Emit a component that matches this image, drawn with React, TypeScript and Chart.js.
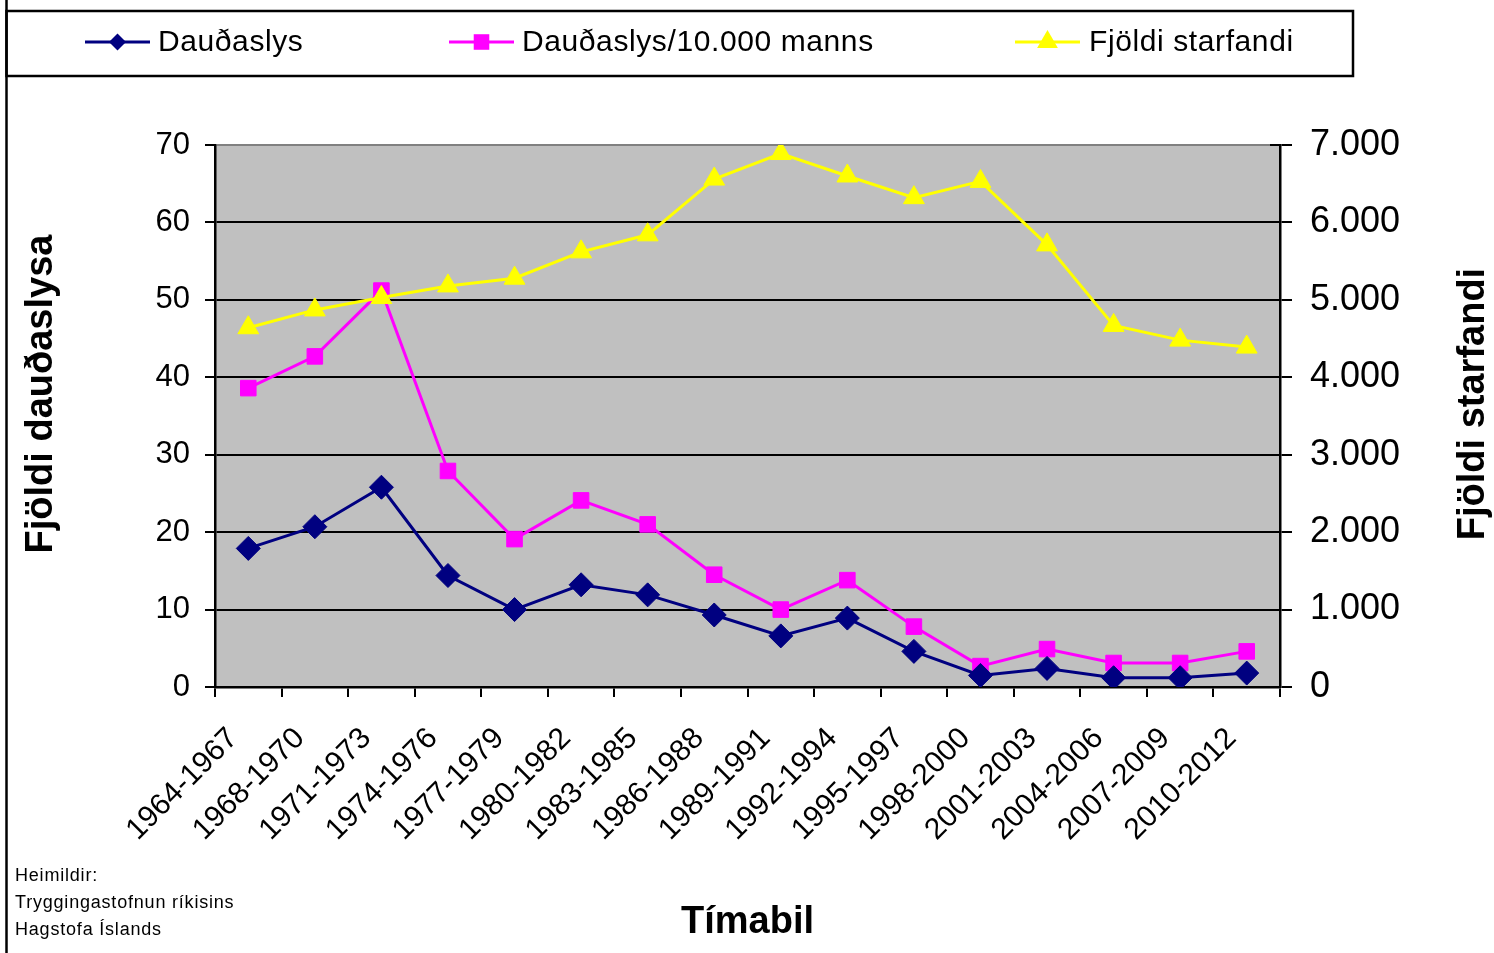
import React, { useEffect, useRef } from 'react';
import { Chart, registerables } from 'chart.js';

Chart.register(...registerables);

const categories = [
  '1964-1967', '1968-1970', '1971-1973', '1974-1976', '1977-1979', '1980-1982',
  '1983-1985', '1986-1988', '1989-1991', '1992-1994', '1995-1997', '1998-2000',
  '2001-2003', '2004-2006', '2007-2009', '2010-2012',
];
const deaths = [17.9, 20.7, 25.8, 14.4, 10.0, 13.2, 11.9, 9.3, 6.6, 8.9, 4.6, 1.5, 2.4, 1.2, 1.2, 1.8];
const deathsPer10k = [38.6, 42.7, 51.2, 27.9, 19.1, 24.1, 21.0, 14.5, 10.0, 13.8, 7.8, 2.7, 4.9, 3.1, 3.1, 4.6];
const employed = [4640, 4870, 5030, 5180, 5280, 5620, 5840, 6560, 6890, 6600, 6320, 6530, 5710, 4670, 4480, 4390];

const seriesLabels = ['Dauðaslys', 'Dauðaslys/10.000 manns', 'Fjöldi starfandi'];
const leftAxisTitle = 'Fjöldi dauðaslysa';
const rightAxisTitle = 'Fjöldi starfandi';
const xAxisTitle = 'Tímabil';
const sourceLines = ['Heimildir:', 'Tryggingastofnun ríkisins', 'Hagstofa Íslands'];
const leftMax = 70;
const leftStep = 10;
const rightMax = 7000;
const rightStep = 1000;

const FONT = '"Liberation Sans", Arial, sans-serif';
const W = 1494;
const H = 953;

const fmtThousands = (v: number) => String(v).replace(/\B(?=(\d{3})+(?!\d))/g, '.');

function drawMarker(ctx: CanvasRenderingContext2D, style: string, x: number, y: number, r: number) {
  ctx.beginPath();
  if (style === 'rectRot') {
    const s = Math.SQRT1_2 * r;
    ctx.moveTo(x - s, y);
    ctx.lineTo(x, y + s);
    ctx.lineTo(x + s, y);
    ctx.lineTo(x, y - s);
  } else if (style === 'rect') {
    const s = Math.SQRT1_2 * r;
    ctx.rect(x - s, y - s, 2 * s, 2 * s);
  } else {
    ctx.moveTo(x, y - r);
    ctx.lineTo(x + 0.866 * r, y + 0.5 * r);
    ctx.lineTo(x - 0.866 * r, y + 0.5 * r);
  }
  ctx.closePath();
  ctx.fill();
}

const legendLayout = [
  { x0: 85, x1: 150, tx: 158 },
  { x0: 449, x1: 514, tx: 522 },
  { x0: 1015, x1: 1080, tx: 1089 },
];

const decorPlugin = {
  id: 'decor',
  beforeDraw(chart: any) {
    const { ctx, chartArea: a } = chart;
    ctx.save();
    ctx.fillStyle = '#ffffff';
    ctx.fillRect(0, 0, chart.width, chart.height);
    ctx.fillStyle = '#C0C0C0';
    ctx.fillRect(a.left, a.top, a.right - a.left, a.bottom - a.top);
    ctx.restore();
  },
  afterDraw(chart: any) {
    const { ctx, chartArea: a } = chart;
    ctx.save();
    // inward ticks on the right axis (cross the axis like the reference)
    const y1 = chart.scales.y1;
    ctx.strokeStyle = '#000';
    ctx.lineWidth = 2;
    y1.ticks.forEach((t: any) => {
      const py = Math.round(y1.getPixelForValue(t.value));
      ctx.beginPath();
      ctx.moveTo(a.right - 10, py);
      ctx.lineTo(a.right, py);
      ctx.stroke();
    });

    // outer frame line and legend box
    ctx.lineWidth = 2.5;
    ctx.beginPath();
    ctx.moveTo(6.5, 0);
    ctx.lineTo(6.5, H);
    ctx.stroke();
    ctx.strokeRect(6.5, 11, 1346.5, 65);

    // legend items
    const ly = 42;
    chart.data.datasets.forEach((ds: any, i: number) => {
      const L = legendLayout[i];
      ctx.strokeStyle = ds.borderColor;
      ctx.lineWidth = 3;
      ctx.beginPath();
      ctx.moveTo(L.x0, ly);
      ctx.lineTo(L.x1, ly);
      ctx.stroke();
      ctx.fillStyle = ds.pointBackgroundColor;
      drawMarker(ctx, ds.pointStyle, (L.x0 + L.x1) / 2, ly, ds.pointRadius);
      ctx.fillStyle = '#000';
      ctx.font = `30px ${FONT}`;
      (ctx as any).letterSpacing = '0.6px';
      ctx.textAlign = 'left';
      ctx.textBaseline = 'middle';
      ctx.fillText(ds.label, L.tx, ly + 1);
      (ctx as any).letterSpacing = '0px';
    });

    // vertical axis titles
    ctx.fillStyle = '#000';
    ctx.font = `bold 38px ${FONT}`;
    ctx.textAlign = 'center';
    ctx.textBaseline = 'middle';
    ctx.save();
    ctx.translate(42, 394);
    ctx.rotate(-Math.PI / 2);
    ctx.fillText(leftAxisTitle, 0, 0);
    ctx.restore();
    ctx.save();
    ctx.translate(1474, 404);
    ctx.rotate(-Math.PI / 2);
    ctx.fillText(rightAxisTitle, 0, 0);
    ctx.restore();

    // sources
    ctx.font = `18px ${FONT}`;
    (ctx as any).letterSpacing = '0.8px';
    ctx.textAlign = 'left';
    ctx.textBaseline = 'alphabetic';
    sourceLines.forEach((t, i) => ctx.fillText(t, 15, 881 + i * 27));
    (ctx as any).letterSpacing = '0px';
    ctx.restore();
  },
};

export default function App() {
  const ref = useRef<HTMLCanvasElement>(null);

  useEffect(() => {
    if (!ref.current) return;
    const chart = new Chart(ref.current, {
      type: 'line',
      data: {
        labels: categories,
        datasets: [
          {
            label: seriesLabels[0],
            data: deaths,
            yAxisID: 'y',
            borderColor: '#000080',
            backgroundColor: '#000080',
            pointBackgroundColor: '#000080',
            pointBorderColor: '#000080',
            pointStyle: 'rectRot',
            pointRadius: 12,
            pointBorderWidth: 1,
            borderWidth: 3,
            tension: 0,
            order: 1,
          },
          {
            label: seriesLabels[1],
            data: deathsPer10k,
            yAxisID: 'y',
            borderColor: '#FF00FF',
            backgroundColor: '#FF00FF',
            pointBackgroundColor: '#FF00FF',
            pointBorderColor: '#FF00FF',
            pointStyle: 'rect',
            pointRadius: 11,
            pointBorderWidth: 1,
            borderWidth: 3,
            tension: 0,
            order: 2,
          },
          {
            label: seriesLabels[2],
            data: employed,
            yAxisID: 'y1',
            borderColor: '#FFFF00',
            backgroundColor: '#FFFF00',
            pointBackgroundColor: '#FFFF00',
            pointBorderColor: '#FFFF00',
            pointStyle: 'triangle',
            pointRadius: 12,
            pointBorderWidth: 1,
            borderWidth: 3,
            tension: 0,
            order: 0,
          },
        ],
      },
      options: {
        animation: false,
        responsive: false,
        devicePixelRatio: 1,
        layout: { padding: { top: 145, left: 0, right: 0, bottom: 0 } },
        plugins: {
          legend: { display: false },
          tooltip: { enabled: false },
        },
        scales: {
          x: {
            type: 'category',
            offset: true,
            grid: {
              offset: true,
              drawOnChartArea: false,
              drawTicks: true,
              tickLength: 10,
              color: '#000',
              lineWidth: 2,
            },
            border: { display: true, color: '#000', width: 2.5 },
            ticks: {
              autoSkip: false,
              minRotation: 45,
              maxRotation: 45,
              color: '#000',
              padding: 24,
              labelOffset: -15,
              font: { family: FONT, size: 30 },
            },
            title: {
              display: true,
              text: xAxisTitle,
              color: '#000',
              font: { family: FONT, size: 38, weight: 'bold' },
              padding: { top: 0, bottom: 8 },
            },
            afterFit: (s: any) => { s.height = 266; },
          },
          y: {
            position: 'left',
            min: 0,
            max: leftMax,
            ticks: {
              stepSize: leftStep,
              color: '#000',
              padding: 15,
              font: { family: FONT, size: 31 },
            },
            grid: {
              color: (c: any) => (c.tick && c.tick.value === leftMax ? '#808080' : '#000'),
              lineWidth: 2,
              tickColor: '#000',
              tickLength: 10,
              tickWidth: 2,
            },
            border: { display: true, color: '#000', width: 2.5 },
            afterFit: (s: any) => { s.width = 215; },
          },
          y1: {
            position: 'right',
            min: 0,
            max: rightMax,
            ticks: {
              stepSize: rightStep,
              color: '#000',
              padding: 18,
              font: { family: FONT, size: 36 },
              callback: (v: any) => fmtThousands(Number(v)),
            },
            grid: {
              drawOnChartArea: false,
              color: '#000',
              tickColor: '#000',
              tickLength: 12,
              lineWidth: 2,
            },
            border: { display: true, color: '#000', width: 2.5 },
            afterFit: (s: any) => { s.width = 214; },
          },
        },
      } as any,
      plugins: [decorPlugin],
    });
    return () => chart.destroy();
  }, []);

  return (
    <div style={{ position: 'fixed', left: 0, top: 0, width: W, height: H, background: '#fff' }}>
      <canvas ref={ref} width={W} height={H} style={{ display: 'block', width: W, height: H }} />
    </div>
  );
}
